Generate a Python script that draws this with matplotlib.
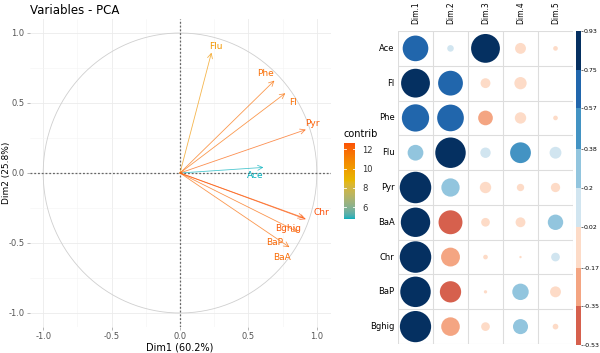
import numpy as np
import matplotlib
matplotlib.use("Agg")
import matplotlib.pyplot as plt
from matplotlib.colors import ListedColormap, Normalize, BoundaryNorm, to_rgb

# ---------------- data ----------------
variables = ["Ace", "Fl", "Phe", "Flu", "Pyr", "BaA", "Chr", "BaP", "Bghig"]
dim_labels = ["Dim.1", "Dim.2", "Dim.3", "Dim.4", "Dim.5"]
dim1 = [0.61, 0.77, 0.69, 0.23, 0.92, 0.80, 0.92, 0.86, 0.905]
dim2 = [0.04, 0.57, 0.66, 0.86, 0.31, -0.53, -0.33, -0.42, -0.32]
dim3 = [0.77, -0.09, -0.20, 0.10, -0.12, -0.07, -0.02, -0.01, -0.07]
dim4 = [-0.11, -0.14, -0.12, 0.40, -0.05, -0.09, -0.005, 0.25, 0.21]
dim5 = [-0.02, 0.0, -0.02, 0.13, -0.08, 0.22, 0.07, -0.11, -0.03]
contrib = [4.8, 11.7, 11.7, 10.2, 12.2, 11.8, 12.68, 11.9, 12.3]
label_x = [0.547, 0.825, 0.628, 0.263, 0.970, 0.745, 1.036, 0.693, 0.788]
label_y = [-0.021, 0.507, 0.714, 0.907, 0.357, -0.600, -0.279, -0.493, -0.393]
pct1, pct2 = 60.2, 25.8
cbar_ticks = [0.93, 0.75, 0.57, 0.38, 0.2, 0.02, -0.17, -0.35, -0.53]
cbar_labels = ["0.93", "0.75", "0.57", "0.38", "0.2", "0.02", "-0.17", "-0.35", "-0.53"]
bin_colors = ["#053061", "#2166AC", "#4393C3", "#92C5DE", "#D1E5F0",
              "#FDDBC7", "#F4A582", "#D6604D"]
gradient_colors = ["#00AFBB", "#E7B800", "#FC4E07"]
contrib_ticks = [6, 8, 10, 12]

W, H = 600, 353
fig = plt.figure(figsize=(W / 100, H / 100), dpi=100)

def fx(px):
    return px / W

def fy(py):
    return 1 - py / H

# Lab interpolation (like ggplot's gradientn)
def srgb_to_lab(rgb):
    rgb = np.asarray(rgb, float)
    lin = np.where(rgb <= 0.04045, rgb / 12.92, ((rgb + 0.055) / 1.055) ** 2.4)
    M = np.array([[0.4124, 0.3576, 0.1805], [0.2126, 0.7152, 0.0722], [0.0193, 0.1192, 0.9505]])
    xyz = M @ lin
    xyz = xyz / np.array([0.95047, 1.0, 1.08883])
    f = np.where(xyz > 0.008856, np.cbrt(xyz), 7.787 * xyz + 16 / 116)
    return np.array([116 * f[1] - 16, 500 * (f[0] - f[1]), 200 * (f[1] - f[2])])

def lab_to_srgb(lab):
    L, a, b = lab
    fy_ = (L + 16) / 116
    fx_ = fy_ + a / 500
    fz_ = fy_ - b / 200
    f = np.array([fx_, fy_, fz_])
    xyz = np.where(f ** 3 > 0.008856, f ** 3, (f - 16 / 116) / 7.787)
    xyz = xyz * np.array([0.95047, 1.0, 1.08883])
    Minv = np.array([[3.2406, -1.5372, -0.4986], [-0.9689, 1.8758, 0.0415], [0.0557, -0.2040, 1.0570]])
    lin = Minv @ xyz
    lin = np.clip(lin, 0, 1)
    rgb = np.where(lin <= 0.0031308, 12.92 * lin, 1.055 * lin ** (1 / 2.4) - 0.055)
    return np.clip(rgb, 0, 1)

labs = [srgb_to_lab(to_rgb(c)) for c in gradient_colors]
cols = []
for t in np.linspace(0, 1, 256):
    if t <= 0.5:
        u = t / 0.5
        lab = labs[0] * (1 - u) + labs[1] * u
    else:
        u = (t - 0.5) / 0.5
        lab = labs[1] * (1 - u) + labs[2] * u
    cols.append(lab_to_srgb(lab))
cmap_c = ListedColormap(cols)
norm_c = Normalize(vmin=4.79, vmax=12.68)

# ---------------- PCA variable plot ----------------
ax = fig.add_axes([fx(29.5), fy(327), fx(330.5) - fx(29.5), fy(19) - fy(327)])
ax.set_xlim(-1.1, 1.1)
ax.set_ylim(-1.1, 1.1)
for s in ax.spines.values():
    s.set_visible(False)
ax.set_xticks([-1.0, -0.5, 0.0, 0.5, 1.0])
ax.set_yticks([-1.0, -0.5, 0.0, 0.5, 1.0])
ax.set_xticks([-0.75, -0.25, 0.25, 0.75], minor=True)
ax.set_yticks([-0.75, -0.25, 0.25, 0.75], minor=True)
ax.grid(which="major", color="#EBEBEB", lw=0.6)
ax.grid(which="minor", color="#F4F4F4", lw=0.4)
ax.set_axisbelow(True)
ax.tick_params(which="major", length=2, width=0.5, color="#999999",
               labelsize=6, labelcolor="#555555", pad=1.5)
ax.tick_params(which="minor", length=0)
ax.set_xticklabels(["-1.0", "-0.5", "0.0", "0.5", "1.0"])
ax.set_yticklabels(["-1.0", "-0.5", "0.0", "0.5", "1.0"])
ax.set_xlabel(f"Dim1 ({pct1}%)", fontsize=7, labelpad=1)
fig.text(fx(6.5), fy(173), f"Dim2 ({pct2}%)", fontsize=6.5, rotation=90,
         ha="center", va="center")

theta = np.linspace(0, 2 * np.pi, 400)
ax.plot(np.cos(theta), np.sin(theta), color="#CFCFCF", lw=0.6, zorder=1)
ax.axhline(0, color="#666666", lw=0.9, ls=(0, (1.5, 1.5)), zorder=2)
ax.axvline(0, color="#666666", lw=0.9, ls=(0, (1.5, 1.5)), zorder=2)

for i, v in enumerate(variables):
    c = cmap_c(norm_c(contrib[i]))
    ax.annotate("", xy=(dim1[i], dim2[i]), xytext=(0, 0),
                arrowprops=dict(arrowstyle="->,head_length=0.35,head_width=0.18",
                                color=c, lw=0.6, shrinkA=0, shrinkB=0, alpha=0.7),
                zorder=3)
    ax.text(label_x[i], label_y[i], v, color=c, fontsize=6.5, ha="center", va="center",
            zorder=4)

fig.text(fx(30), fy(10), "Variables - PCA", fontsize=8.5, ha="left", va="center")

# contrib colorbar
cax = fig.add_axes([fx(344), fy(219), fx(355) - fx(344), fy(142.7) - fy(219)])
grad = np.linspace(4.79, 12.68, 256).reshape(-1, 1)
cax.imshow(grad, aspect="auto", cmap=cmap_c, norm=norm_c, origin="lower",
           extent=[0, 1, 4.79, 12.68])
cax.set_xlim(0, 1)
cax.set_ylim(4.79, 12.68)
cax.set_xticks([])
cax.yaxis.tick_right()
cax.set_yticks(contrib_ticks)
cax.tick_params(axis="y", length=0, labelsize=6, labelcolor="#333333", pad=5)
for t in contrib_ticks:
    cax.plot([0, 0.2], [t, t], color="white", lw=0.6)
    cax.plot([0.8, 1], [t, t], color="white", lw=0.6)
for s in cax.spines.values():
    s.set_visible(False)
fig.text(fx(343), fy(134), "contrib", fontsize=7, ha="left", va="center")

# ---------------- correlation plot ----------------
values = np.array([dim1, dim2, dim3, dim4, dim5]).T
nrow, ncol = values.shape
cmap_b = ListedColormap(bin_colors[::-1])
bounds = sorted(cbar_ticks)
norm_b = BoundaryNorm(bounds, cmap_b.N)

ax2 = fig.add_axes([fx(398), fy(344), fx(573) - fx(398), fy(31) - fy(344)])
ax2.set_xlim(0, ncol)
ax2.set_ylim(nrow, 0)
ax2.axis("off")
for j in range(ncol + 1):
    ax2.plot([j, j], [0, nrow], color="#DDDDDD", lw=0.8, zorder=1)
for i in range(nrow + 1):
    ax2.plot([0, ncol], [i, i], color="#DDDDDD", lw=0.8, zorder=1)
vmax = max(abs(values.min()), abs(values.max()))
for i in range(nrow):
    for j in range(ncol):
        v = values[i, j]
        d_px = 31.5 * np.sqrt(abs(v) / vmax)
        if d_px < 0.5:
            continue
        col = cmap_b(norm_b(np.clip(v, -0.529, 0.929)))
        ax2.scatter(j + 0.5, i + 0.5, s=(d_px * 0.72) ** 2, color=col,
                    edgecolors="none", zorder=2)
for i, v in enumerate(variables):
    ax2.text(-0.1, i + 0.5, v, ha="right", va="center", fontsize=6)
for j, d in enumerate(dim_labels):
    ax2.text(j + 0.5, -0.2, d, ha="center", va="bottom", rotation=90, fontsize=5.5)

# discrete colorbar
ax3 = fig.add_axes([fx(575.5), fy(345), fx(580.5) - fx(575.5), fy(31) - fy(345)])
for k in range(len(bin_colors)):
    top = cbar_ticks[k]
    bot = cbar_ticks[k + 1]
    ax3.fill_between([0, 1], bot, top, color=bin_colors[k], lw=0)
ax3.set_xlim(0, 1)
ax3.set_ylim(min(cbar_ticks), max(cbar_ticks))
ax3.set_xticks([])
ax3.yaxis.tick_right()
ax3.set_yticks(cbar_ticks)
ax3.set_yticklabels(cbar_labels)
ax3.tick_params(axis="y", length=1.5, width=0.4, labelsize=4.5, pad=0.5)
for s in ax3.spines.values():
    s.set_visible(False)

fig.savefig("out.png", dpi=100)
